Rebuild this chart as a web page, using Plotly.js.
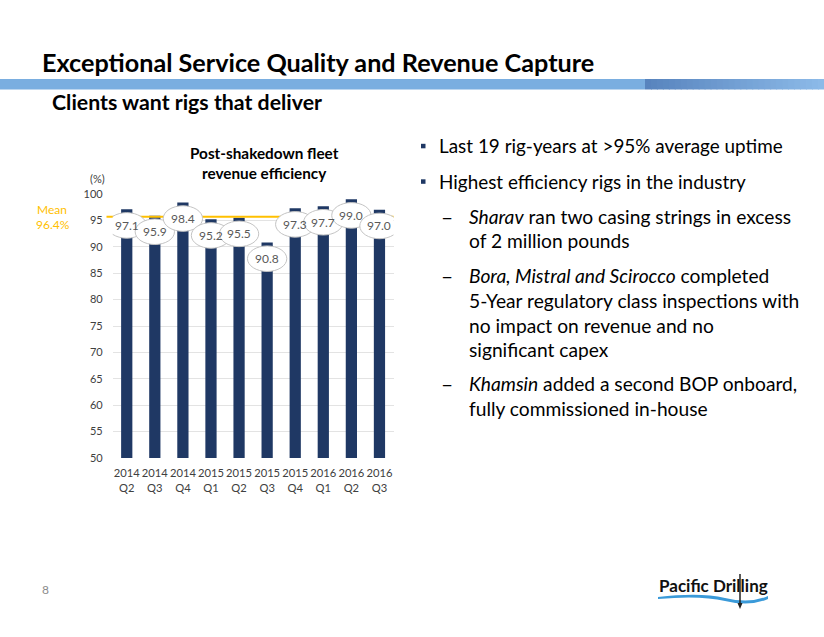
<!DOCTYPE html>
<html>
<head>
<meta charset="utf-8">
<script src="https://cdn.plot.ly/plotly-3.0.1.min.js"></script>
<style>html,body{margin:0;padding:0;background:#fff;} #chart{width:824px;height:637px;}</style>
</head>
<body>
<div id="chart"></div>
<script>
// ---- data ----
const years = ["2014","2014","2014","2015","2015","2015","2015","2016","2016","2016"];
const quarters = ["Q2","Q3","Q4","Q1","Q2","Q3","Q4","Q1","Q2","Q3"];
const efficiency = [97.1, 95.9, 98.4, 95.2, 95.5, 90.8, 97.3, 97.7, 99.0, 97.0];
const meanLabel = "96.4%";
const meanLineLevel = 95.7;   // level at which the mean line is drawn in the picture
const yTicks = [50,55,60,65,70,75,80,85,90,95,100];

const W = 824, H = 637;
const FONT = "Lato, 'Open Sans', sans-serif";
const px = x => x / W;
const py = y => 1 - y / H;

const catLabels = years.map((y, i) => y + "<br>" + quarters[i]);
const idx = efficiency.map((_, i) => i);

const traces = [{
  type: "bar",
  x: idx,
  y: efficiency,
  marker: {color: "#1F3864"},
  hoverinfo: "skip"
}];

const shapes = [];
const annotations = [];

// header bar
shapes.push({type:"rect", xref:"paper", yref:"paper", x0:0, x1:px(645), y0:py(89.5), y1:py(79), fillcolor:"#7AAEE0", line:{width:0}, layer:"below"});
const gradSteps = 30;
for (let k = 0; k < gradSteps; k++) {
  const t = k / (gradSteps - 1);
  const r = Math.round(88 + (140 - 88) * t), g = Math.round(132 + (186 - 132) * t), b = Math.round(190 + (232 - 190) * t);
  shapes.push({type:"rect", xref:"paper", yref:"paper",
    x0: px(645 + (824 - 645) * k / gradSteps), x1: px(645 + (824 - 645) * (k + 1) / gradSteps) + 0.001,
    y0: py(89.5), y1: py(79), fillcolor: `rgb(${r},${g},${b})`, line:{width:0}, layer:"below"});
}

// mean line
shapes.push({type:"line", xref:"paper", yref:"y", x0:px(106.5), x1:px(393.5), y0:meanLineLevel, y1:meanLineLevel,
  line:{color:"#FFC000", width:2}, layer:"above"});

// data label ellipses + texts (label sits ~3 units below bar top)
const LBL_OFF = 3.05, HALF_W = 0.7, HALF_H = 2.42;
efficiency.forEach((v, i) => {
  shapes.push({type:"circle", xref:"x", yref:"y",
    x0:i - HALF_W, x1:i + HALF_W, y0:v - LBL_OFF - HALF_H, y1:v - LBL_OFF + HALF_H,
    fillcolor:"#FFFFFF", line:{color:"#C4C4C4", width:1}, layer:"above"});
  annotations.push({xref:"x", yref:"y", x:i, y:v - LBL_OFF, text:v.toFixed(1), showarrow:false,
    font:{family:FONT, size:12, color:"#595959"}, xanchor:"center", yanchor:"middle"});
});

// texts
function txt(x, y, text, size, opts = {}) {
  annotations.push(Object.assign({xref:"paper", yref:"paper", x:px(x), y:py(y), text:text, showarrow:false,
    xanchor:"left", yanchor:"middle", font:{family:FONT, size:size, color:opts.color || "#000"}}, opts.extra || {}));
}
txt(40, 62, "<b>Exceptional Service Quality and Revenue Capture</b>", 25.2);
txt(50, 102, "<b>Clients want rigs that deliver</b>", 21.3);
txt(264, 153, "<b>Post-shakedown fleet</b>", 15.3, {extra:{xanchor:"center"}});
txt(264, 173, "<b>revenue efficiency</b>", 15.3, {extra:{xanchor:"center"}});
txt(88, 179, "(%)", 11, {color:"#404040"});
txt(35, 210, "Mean", 12, {color:"#FFC000"});
txt(34, 224, meanLabel, 12, {color:"#FFC000"});
txt(40, 589, "8", 12, {color:"#8C8C8C"});

// bullets
const bulletX = 436.5, subX = 466.5;
[[146, "Last 19 rig-years at >95% average uptime"], [181.5, "Highest efficiency rigs in the industry"]].forEach(([y, t]) => {
  shapes.push({type:"rect", xref:"paper", yref:"paper", x0:px(421), x1:px(425.5), y0:py(y + 2.3), y1:py(y - 2.2), fillcolor:"#1F3864", line:{width:0}});
  txt(bulletX, y, t, 18.9);
});
const subLines = [
  [216, "<i>Sharav</i> ran two casing strings in excess", true],
  [240.5, "of 2 million pounds", false],
  [275, "<i>Bora, Mistral and Scirocco</i> completed", true],
  [300, "5-Year regulatory class inspections with", false],
  [325, "no impact on revenue and no", false],
  [349, "significant capex", false],
  [384, "<i>Khamsin</i> added a second BOP onboard,", true],
  [408, "fully commissioned in-house", false]
];
subLines.forEach(([y, t, dash]) => {
  if (dash) txt(439, y, "–", 21);
  txt(subX, y, t, 19.2);
});

// logo
txt(657, 585, "<b>Pacific Drilling</b>", 17, {color:"#111"});
shapes.push({type:"path", xref:"paper", yref:"paper",
  path:`M ${px(658)},${py(597)} Q ${px(700)},${py(592)} ${px(725)},${py(598)} Q ${px(750)},${py(604)} ${px(768)},${py(596)} L ${px(768)},${py(599)} Q ${px(750)},${py(607)} ${px(725)},${py(601)} Q ${px(700)},${py(595)} ${px(658)},${py(599)} Z`,
  fillcolor:"#3A9AD9", line:{width:0}});
shapes.push({type:"line", xref:"paper", yref:"paper", x0:px(740), x1:px(740), y0:py(574), y1:py(606), line:{color:"#222", width:1.5}});
shapes.push({type:"path", xref:"paper", yref:"paper",
  path:`M ${px(737.5)},${py(603)} L ${px(742.5)},${py(603)} L ${px(740)},${py(609)} Z`, fillcolor:"#222", line:{width:0}});

const layout = {
  width: W, height: H,
  margin: {l:0, r:0, t:0, b:0},
  paper_bgcolor: "#FFFFFF", plot_bgcolor: "#FFFFFF",
  showlegend: false,
  bargap: 0.6,
  xaxis: {
    domain: [px(112.7), px(393.5)],
    range: [-0.5, 9.5],
    tickmode: "array", tickvals: idx, ticktext: catLabels,
    tickangle: 0,
    tickfont: {family: FONT, size: 11.2, color: "#404040"},
    showgrid: false, zeroline: false, showline: false, ticks: "",
    ticklabelstandoff: 7,
    fixedrange: true
  },
  yaxis: {
    domain: [py(458), py(194)],
    range: [50, 100],
    tickmode: "array", tickvals: yTicks,
    tickfont: {family: FONT, size: 11, color: "#404040"},
    showgrid: true, gridcolor: "#E3E3E3", gridwidth: 1,
    zeroline: false, showline: false, ticks: "",
    ticklabelstandoff: 9,
    fixedrange: true
  },
  shapes: shapes,
  annotations: annotations
};

Plotly.newPlot("chart", traces, layout, {staticPlot: true, displayModeBar: false});
</script>
</body>
</html>
